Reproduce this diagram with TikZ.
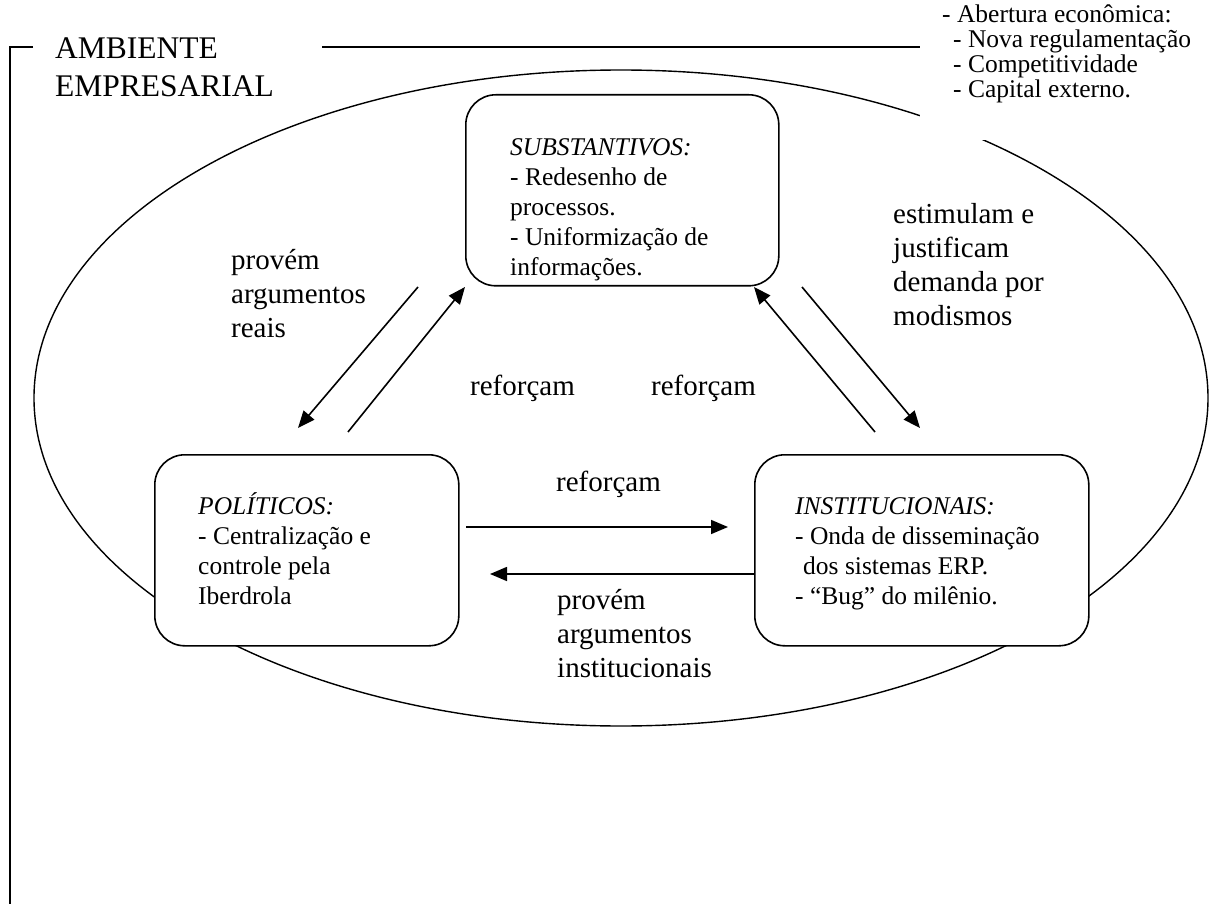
\documentclass[tikz,border=0pt]{standalone}
\usepackage{fontspec}
\setmainfont{Liberation Serif}
\usetikzlibrary{arrows.meta}
\begin{document}
\begin{tikzpicture}[x=1pt,y=-1pt,
  frame/.style={line width=1.5pt},
  factor/.style={draw, line width=1.6pt, rounded corners=30pt, fill=white,
    minimum height=191pt, anchor=north west, inner sep=0pt},
  body/.style={anchor=north west, inner sep=0pt, align=left,
    font=\fontsize{25.5}{30}\selectfont},
  lbl/.style={anchor=north west, inner sep=0pt, align=left,
    font=\fontsize{29}{34}\selectfont},
  arr/.style={line width=1.6pt, -{Triangle[length=17pt,width=14pt]}}]
\useasboundingbox (0,0) rectangle (1224,904);

% environment boundary
\draw[frame] (33,47) -- (10,47) -- (10,904);
\draw[frame] (322,47) -- (1224,47);
\node[anchor=north west, inner sep=0pt, align=left,
  font=\fontsize{31.5}{38}\selectfont] (amb) at (55,38) {AMBIENTE\\EMPRESARIAL};

% the organisation
\draw[line width=1.4pt] (621,398) ellipse [x radius=587pt, y radius=328pt];

% external pressures
\fill[white] (920,0) rectangle (1224,140);
\node[anchor=north west, inner sep=0pt, align=left,
  font=\fontsize{25.5}{25}\selectfont] (ext) at (942,5)
  {- Abertura econômica:\\
   \hspace*{11pt}- Nova regulamentação\\
   \hspace*{11pt}- Competitividade\\
   \hspace*{11pt}- Capital externo.};

% the three groups of factors
\node[factor, minimum width=313pt] (subst) at (465,94) {};
\node[factor, minimum width=304pt] (polit) at (154,454) {};
\node[factor, minimum width=334pt] (inst) at (754,454) {};

\node[body] (substtxt) at (510,138)
  {\textit{SUBSTANTIVOS:}\\- Redesenho de\\processos.\\- Uniformização de\\informações.};
\node[body] (polittxt) at (198,492)
  {\textit{POLÍTICOS:}\\- Centralização e\\controle pela\\Iberdrola};
\node[body] (insttxt) at (795,497)
  {\textit{INSTITUCIONAIS:}\\- Onda de disseminação\\\hspace*{8pt}dos sistemas ERP.\\- “Bug” do milênio.};

% connector end points
\coordinate (s1) at (418,287); \coordinate (e1) at (298,428);
\coordinate (s2) at (348,432); \coordinate (e2) at (465,287);
\coordinate (s3) at (875,432); \coordinate (e3) at (754,287);
\coordinate (s4) at (802,287); \coordinate (e4) at (920,428);
\coordinate (s5) at (466,527); \coordinate (e5) at (728,527);
\coordinate (s6) at (755,574); \coordinate (e6) at (490,574);

\draw[arr] (s1) -- (e1);
\draw[arr] (s2) -- (e2);
\draw[arr] (s3) -- (e3);
\draw[arr] (s4) -- (e4);
\draw[arr] (s5) -- (e5);
\draw[arr] (s6) -- (e6);

% relation labels
\node[lbl] (l1) at (231,249) {provém\\argumentos\\reais};
\node[lbl] (l2) at (470,375) {reforçam};
\node[lbl] (l3) at (651,375) {reforçam};
\node[lbl] (l4) at (556,471) {reforçam};
\node[lbl] (l5) at (557,589) {provém\\argumentos\\institucionais};
\node[lbl] (l6) at (893,203) {estimulam e\\justificam\\demanda por\\modismos};
\end{tikzpicture}
\end{document}
